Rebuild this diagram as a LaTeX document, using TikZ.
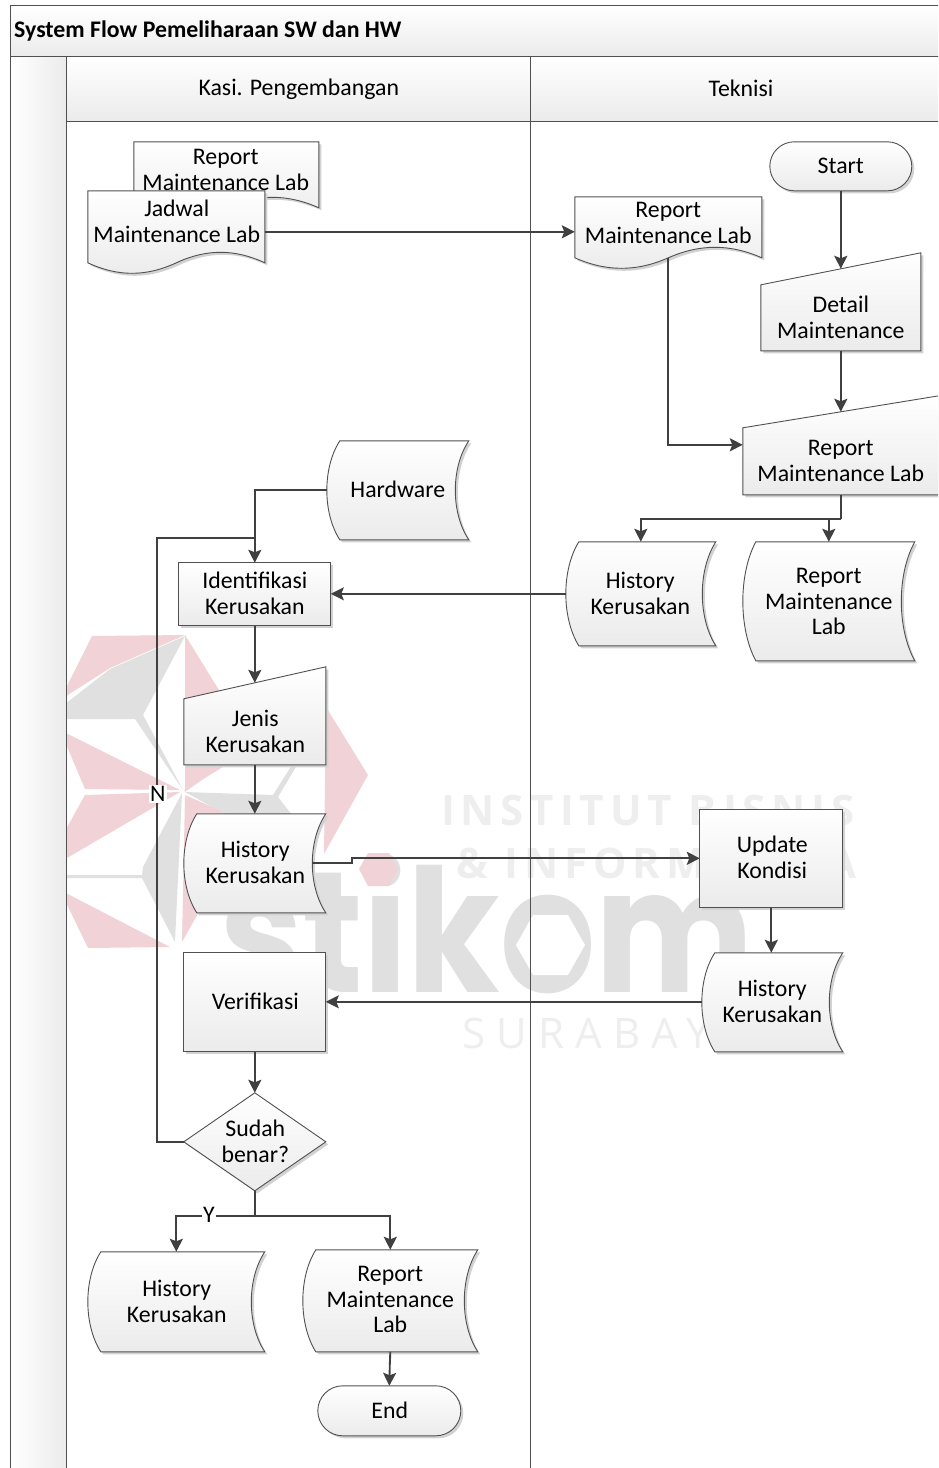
\documentclass[tikz,border=0pt]{standalone}
\usepackage{fontspec}
\setmainfont{Carlito}
\newfontfamily\wmfont{Open Sans}
\newfontfamily\logofont{Poppins}
\usetikzlibrary{arrows.meta,fit}
\definecolor{linec}{HTML}{505050}
\definecolor{conc}{HTML}{404040}
\definecolor{gradend}{HTML}{EBEBEB}
\definecolor{shadc}{HTML}{D2D2D2}
\definecolor{wmpink}{HTML}{F1D2D6}
\definecolor{wmgray}{HTML}{E0E0E0}
\definecolor{wmtext}{HTML}{EEEEEE}
\tikzset{
  lane/.style={draw=linec,line width=1pt},
  shapest/.style={draw=linec,line width=0.9pt,top color=white,bottom color=gradend},
  shadowst/.style={fill=shadc,draw=none,shift={(2.5,2.5)}},
  bbox/.style={inner sep=0pt,outer sep=0pt,draw=none,fill=none},
  txt/.style={inner sep=0pt,outer sep=0pt,align=center,text=black,font=\fontsize{23.8}{25.8}\selectfont},
  con/.style={draw=conc,line width=1.85pt,-{Stealth[length=13pt,width=13pt,inset=2.5pt]}},
  conplain/.style={draw=conc,line width=1.85pt},
  lbl/.style={fill=white,inner sep=1.5pt,text=black,font=\fontsize{23.8}{25.8}\selectfont}
}
% #1 name, #2-#5 box x1 y1 x2 y2, #6 text x, #7 text y, #8 text
\newcommand\FinishShape[8]{%
  \coordinate (#1-a) at (#2,#3);\coordinate (#1-b) at (#4,#5);
  \node[bbox,fit=(#1-a)(#1-b)] (#1) {};
  \node[txt] (#1-t) at (#6,#7) {#8};}
\newcommand\DrawBoth[1]{\path[shadowst] #1;\path[shapest] #1;}
\newcommand\RectShape[8]{\DrawBoth{(#2,#3) rectangle (#4,#5)}\FinishShape{#1}{#2}{#3}{#4}{#5}{#6}{#7}{#8}}
\newcommand\TermShape[8]{\pgfmathsetmacro\rr{(#5-#3)/2}%
  \DrawBoth{[rounded corners=\rr pt] (#2,#3) rectangle (#4,#5)}\FinishShape{#1}{#2}{#3}{#4}{#5}{#6}{#7}{#8}}
% manual input: #3 = top right y, left top = y+32
\newcommand\ManualShape[8]{\pgfmathsetmacro\yl{#3+32}%
  \DrawBoth{(#2,\yl) -- (#4,#3) -- (#4,#5) -- (#2,#5) -- cycle}\FinishShape{#1}{#2}{#3}{#4}{#5}{#6}{#7}{#8}}
\newcommand\DiamondShape[8]{\pgfmathsetmacro\xm{(#2+#4)/2}\pgfmathsetmacro\ym{(#3+#5)/2}%
  \DrawBoth{(#2,\ym) -- (\xm,#3) -- (#4,\ym) -- (\xm,#5) -- cycle}\FinishShape{#1}{#2}{#3}{#4}{#5}{#6}{#7}{#8}}
\newcommand\StoredShape[8]{%
  \pgfmathsetmacro\xa{#2+13}\pgfmathsetmacro\xb{#2-4.3}\pgfmathsetmacro\xc{#4-18}%
  \pgfmathsetmacro\ya{#3+0.27*(#5-#3)}\pgfmathsetmacro\yb{#5-0.27*(#5-#3)}%
  \DrawBoth{(\xa,#3) -- (#4,#3) .. controls (\xc,\ya) and (\xc,\yb) .. (#4,#5) -- (\xa,#5) .. controls (\xb,\yb) and (\xb,\ya) .. (\xa,#3) -- cycle}%
  \FinishShape{#1}{#2}{#3}{#4}{#5}{#6}{#7}{#8}}
% wave document: #5 = y of the side bottom corners; lowest point about 10 below
\newcommand\DocShape[8]{%
  \pgfmathsetmacro\ww{#4-#2}\pgfmathsetmacro\xm{(#2+#4)/2}%
  \pgfmathsetmacro\xp{#4-0.17*\ww}\pgfmathsetmacro\xq{\xm+0.17*\ww}%
  \pgfmathsetmacro\xr{\xm-0.17*\ww}\pgfmathsetmacro\xs{#2+0.17*\ww}%
  \pgfmathsetmacro\yu{#5-14}\pgfmathsetmacro\yd{#5+14}%
  \DrawBoth{(#2,#3) -- (#4,#3) -- (#4,#5) .. controls (\xp,\yu) and (\xq,\yu) .. (\xm,#5) .. controls (\xr,\yd) and (\xs,\yd) .. (#2,#5) -- cycle}%
  \FinishShape{#1}{#2}{#3}{#4}{#5}{#6}{#7}{#8}}
\begin{document}
\begin{tikzpicture}[x=1pt,y=-1pt]
\useasboundingbox (0,0) rectangle (938,1468);
\clip (0,0) rectangle (938,1468);
\fill[white] (0,0) rectangle (938,1468);
% ---- watermark
\fill[wmpink] (60,700) -- (92,636) -- (185,635) -- (110,668) -- cycle;
\fill[wmpink] (185,635) -- (222,695) -- (222,765) -- (185,792) -- cycle;
\fill[wmpink] (326,707) -- (368,775) -- (324,854) -- cycle;
\fill[wmpink] (184,791) -- (198,766) -- (226,765) -- cycle;
\fill[wmpink] (60,730) -- (180,790) -- (85,789) -- cycle;
\fill[wmpink] (85,795) -- (180,792) -- (60,862) -- (60,840) -- cycle;
\fill[wmpink] (60,890) -- (170,947) -- (88,948) -- cycle;
\fill[wmpink] (185,795) -- (226,813) -- (197,813) -- cycle;
\fill[wmpink] (185,796) -- (200,815) -- (200,910) -- (182,942) -- cycle;
\fill[wmgray] (185,636) -- (110,669) -- (60,708) -- (60,719) -- (135,719) -- (183,790) -- (143,715) -- cycle;
\fill[wmgray] (185,792) -- (273,795) -- (292,765) -- (297,765) -- (278,797) -- (292,815) -- (227,815) -- cycle;
\fill[wmgray] (182,793) -- (143,867) -- (142,875) -- (60,875) -- (60,878) -- (142,878) -- (175,942) -- cycle;
\node[inner sep=0pt,anchor=west,text=wmtext] (wm1) at (441,810) {\fontsize{42}{42}\wmfont\bfseries\addfontfeature{LetterSpace=14}INSTITUT BISNIS};
\node[inner sep=0pt,anchor=west,text=wmtext] (wm2) at (456,863) {\fontsize{42}{42}\wmfont\bfseries\addfontfeature{LetterSpace=14}\& INFORMATIKA};
\node[inner sep=0pt,anchor=west,text=wmtext] (wm3) at (462,1033) {\fontsize{42}{42}\wmfont\addfontfeature{LetterSpace=27}SURABAYA};
\node[inner sep=0pt,anchor=base west,text=wmgray] (wm4) at (219,992) {\scalebox{.87}[1]{\fontsize{172}{172}\logofont\bfseries stikom}};
\fill[white] (516,945) -- (533,915) -- (568,915) -- (585,945) -- (568,975) -- (533,975) -- cycle;
\fill[wmpink] (359,869) -- (368,853) -- (389,853) -- (398,869) -- (389,886) -- (368,886) -- cycle;
\begin{scope}[shift={(-0.2,-0.2)}]
% ---- pool
\path[lane,left color=white,right color=gradend] (11,57) rectangle (67,1475);
\path[lane,top color=white,bottom color=gradend] (11,6) rectangle (945,57);
\path[lane,top color=white,bottom color=gradend] (67,57) rectangle (531,122);
\path[lane,top color=white,bottom color=gradend] (531,57) rectangle (945,122);
\draw[lane] (67,122) -- (67,1475);
\draw[lane] (531,122) -- (531,1475);
\node[inner sep=0pt,anchor=west,text=black] (title) at (14.2,31.7) {\fontsize{23.8}{26}\selectfont\bfseries System Flow Pemeliharaan SW dan HW};
\node[txt] (lane1) at (299,89.7) {Kasi. Pengembangan};
\node[txt] (lane2) at (741.2,88.7) {Teknisi};
% ---- shapes
\DocShape{repA}{134}{142}{319}{208}{226}{170.2}{Report\\Maintenance Lab}
\DocShape{jadwal}{88}{191}{265}{263}{177}{221.2}{Jadwal\\Maintenance Lab}
\DocShape{repB}{575}{197}{762}{258}{668.5}{223.2}{Report\\Maintenance Lab}
\TermShape{start}{770}{142}{912}{191}{841}{166.2}{Start}
\ManualShape{detail}{761}{253}{921}{351}{841}{317.7}{Detail\\Maintenance}
\ManualShape{repC}{743}{396}{939}{495}{841}{461.2}{Report\\Maintenance Lab}
\StoredShape{hardware}{327}{441}{469}{540}{398}{489.2}{Hardware}
\RectShape{identifikasi}{179}{563}{331}{626}{255}{593.7}{Identifikasi\\Kerusakan}
\StoredShape{histA}{566}{542}{716}{646}{640.5}{593.7}{History\\Kerusakan}
\StoredShape{repD}{743}{542}{915}{661}{829}{601.7}{Report\\Maintenance\\Lab}
\ManualShape{jenis}{184}{667}{326}{765}{255.5}{731.7}{Jenis\\Kerusakan}
\StoredShape{histB}{184}{814}{326}{913}{255.5}{862.7}{History\\Kerusakan}
\RectShape{update}{700}{810}{843}{908}{772.5}{857.7}{Update\\Kondisi}
\StoredShape{histC}{702}{953}{843}{1052}{772.5}{1001.7}{History\\Kerusakan}
\RectShape{verifikasi}{184}{953}{326}{1052}{255.5}{1001.7}{Verifikasi}
\DiamondShape{sudah}{184}{1093}{326}{1191}{255.5}{1141.2}{Sudah\\benar?}
\StoredShape{histD}{88}{1252}{265}{1352}{177}{1301.2}{History\\Kerusakan}
\StoredShape{repE}{303}{1250}{478}{1352}{390.5}{1299.7}{Report\\Maintenance\\Lab}
\TermShape{endn}{318}{1386}{461}{1436}{390}{1410.7}{End}
% ---- connectors
\coordinate (jadwalOut) at (265,232);
\coordinate (repBIn) at (575,232);
\draw[con] (jadwalOut) -- (repBIn);
\draw[con] (start.south) -- ([yshift=-16pt]detail.north);
\draw[con] (detail.south) -- ([yshift=-16pt]repC.north);
\coordinate (repBOut) at (668.5,258);
\coordinate (repCIn) at (743,445);
\draw[con] (repBOut) -- (repBOut |- repCIn) -- (repCIn);
\coordinate (splitA) at (841,519);
\draw[conplain] (repC.south) -- (splitA);
\draw[con] (splitA) -- (splitA -| histA.north) -- (histA.north);
\draw[con] (splitA) -- (splitA -| repD.north) -- (repD.north);
\draw[con] (hardware.west) -- (hardware.west -| identifikasi.north) -- (identifikasi.north);
\coordinate (histAOut) at (566,594);
\coordinate (idIn) at (331,594);
\draw[con] (histAOut) -- (idIn);
\draw[con] (identifikasi.south) -- ([yshift=-16pt]jenis.north);
\draw[con] (jenis.south) -- (histB.north);
\coordinate (histBOut) at (312,863);
\coordinate (jogA) at (352,863);
\coordinate (jogB) at (352,858.5);
\coordinate (updIn) at (700,858.5);
\draw[con] (histBOut) -- (jogA) -- (jogB) -- (updIn);
\draw[con] (update.south) -- (update.south |- histC.north);
\coordinate (histCOut) at (702,1002);
\coordinate (verIn) at (326,1002);
\draw[con] (histCOut) -- (verIn);
\draw[con] (verifikasi.south) -- (sudah.north);
\coordinate (loopA) at (157,1142);
\coordinate (loopB) at (157,538);
\coordinate (loopC) at (255,538);
\draw[conplain] (sudah.west) -- (loopA) -- (loopB) -- (loopC);
\node[lbl] (labN) at (158,794.2) {N};
\coordinate (splitB) at (255,1216);
\draw[conplain] (sudah.south) -- (splitB);
\draw[con] (splitB) -- (splitB -| histD.north) -- (histD.north);
\draw[con] (splitB) -- (splitB -| repE.north) -- (repE.north);
\node[lbl,inner sep=1pt] (labY) at (209.2,1215.2) {Y};
\coordinate (jogC) at (390,1365);
\coordinate (jogD) at (389.5,1386);
\draw[con] (repE.south) -- (jogC) -- (jogD);
\end{scope}
\end{tikzpicture}
\end{document}
